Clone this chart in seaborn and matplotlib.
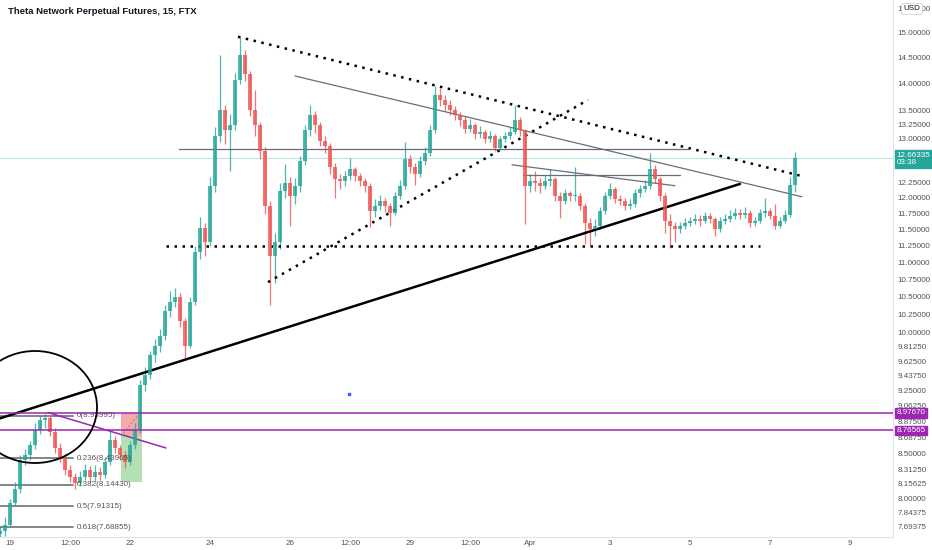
import numpy as np
import pandas as pd
import matplotlib
matplotlib.use("Agg")
import matplotlib.pyplot as plt
import seaborn as sns
from matplotlib.patches import Ellipse
from matplotlib.ticker import FixedLocator, NullLocator, NullFormatter

sns.set_style("white")
plt.rcParams['font.family'] = ['Liberation Sans', 'DejaVu Sans']

# --- DATA (3h candles, x = days since Mar 19 00:00) ---
t_start = -0.25
t_step = 0.125
first_open = 7.62
closes = [7.65, 7.71, 7.95, 8.10, 8.42, 8.48, 8.59, 8.77, 8.89, 8.91, 8.75, 8.56,
          8.45, 8.31, 8.23, 8.16, 8.23, 8.31, 8.23, 8.29, 8.25, 8.40,
          8.65, 8.56, 8.48, 8.40, 8.59, 8.77, 9.32, 9.45, 9.70, 9.83,
          9.96, 10.30, 10.43, 10.50, 10.16, 9.83, 10.43, 11.15, 11.53, 11.31,
          12.20, 13.05, 13.52, 13.15, 13.24, 14.08, 14.56, 14.18, 13.52, 13.24,
          12.79, 11.87, 11.10, 11.31, 12.11, 12.25, 12.03, 12.20, 12.62, 13.15,
          13.42, 13.24, 12.96, 12.87, 12.52, 12.31, 12.27, 12.36, 12.48, 12.36,
          12.27, 12.20, 11.79, 11.87, 11.95, 11.87, 11.76, 12.03, 12.20, 12.65,
          12.52, 12.40, 12.62, 12.76, 13.15, 13.79, 13.70, 13.61, 13.52, 13.42,
          13.33, 13.18, 13.24, 13.09, 13.11, 12.99, 13.05, 12.84, 12.99, 13.05,
          13.11, 13.33, 13.15, 12.20, 12.27, 12.24, 12.20, 12.27, 12.31, 12.03,
          11.95, 12.08, 12.03, 12.03, 11.87, 11.60, 11.50, 11.55, 11.79, 12.03,
          12.15, 11.98, 11.95, 11.87, 11.90, 12.08, 12.15, 12.20, 12.48, 12.31,
          12.03, 11.63, 11.55, 11.50, 11.55, 11.60, 11.63, 11.66, 11.63, 11.71,
          11.66, 11.50, 11.63, 11.66, 11.71, 11.76, 11.73, 11.76, 11.60, 11.63,
          11.76, 11.79, 11.71, 11.55, 11.63, 11.73, 12.21, 12.66335]
highs = [7.70, 7.80, 7.99, 8.18, 8.48, 8.55, 8.64, 8.85, 8.95, 8.98, 8.94, 8.80,
         8.62, 8.50, 8.36, 8.28, 8.30, 8.38, 8.35, 8.36, 8.34, 8.46,
         8.77, 8.70, 8.60, 8.52, 8.64, 8.85, 9.38, 9.55, 9.76, 9.92,
         10.05, 10.38, 10.58, 10.62, 10.55, 10.20, 10.50, 11.25, 11.70, 11.60,
         12.35, 13.20, 14.56, 13.60, 13.45, 14.20, 14.92, 14.66, 14.25, 13.89,
         13.30, 12.85, 11.95, 11.45, 12.25, 12.56, 12.35, 12.33, 12.70, 13.25,
         13.60, 13.50, 13.30, 13.05, 12.92, 12.58, 12.40, 12.45, 12.67, 12.52,
         12.42, 12.33, 12.24, 11.98, 12.05, 12.00, 11.92, 12.10, 12.30, 12.95,
         12.72, 12.58, 12.70, 12.86, 13.25, 13.96, 13.92, 13.80, 13.70, 13.58,
         13.48, 13.40, 13.35, 13.28, 13.22, 13.15, 13.14, 13.08, 13.05, 13.12,
         13.20, 13.61, 13.38, 13.18, 12.40, 12.44, 12.32, 12.38, 12.48, 12.35,
         12.10, 12.15, 12.12, 12.52, 12.08, 11.92, 11.68, 11.66, 11.85, 12.10,
         12.25, 12.18, 12.05, 12.00, 11.98, 12.15, 12.22, 12.30, 12.75, 12.55,
         12.35, 12.08, 11.75, 11.62, 11.62, 11.68, 11.70, 11.74, 11.72, 11.78,
         11.76, 11.70, 11.70, 11.74, 11.80, 11.84, 11.82, 11.85, 11.80, 11.70,
         11.83, 12.00, 11.84, 11.90, 11.70, 11.80, 12.35, 12.77]
lows = [7.58, 7.60, 7.69, 7.92, 8.06, 8.36, 8.42, 8.55, 8.72, 8.80, 8.70, 8.50,
        8.40, 8.25, 8.18, 8.10, 8.13, 8.20, 8.18, 8.19, 8.20, 8.22,
        8.37, 8.50, 8.42, 8.33, 8.37, 8.55, 8.73, 9.25, 9.40, 9.62,
        9.75, 9.90, 10.22, 10.35, 10.08, 9.67, 9.80, 10.38, 11.05, 11.10,
        11.25, 12.10, 12.95, 12.90, 12.44, 13.15, 14.00, 14.05, 13.40, 13.05,
        12.65, 11.75, 10.39, 10.70, 11.20, 12.00, 11.55, 11.90, 12.10, 12.55,
        13.05, 13.10, 12.88, 12.75, 12.40, 12.00, 12.15, 12.20, 12.30, 12.28,
        12.20, 12.10, 11.54, 11.70, 11.80, 11.78, 11.56, 11.72, 11.98, 12.15,
        12.42, 12.22, 12.35, 12.55, 12.70, 13.10, 13.58, 13.50, 13.42, 13.33,
        13.22, 13.10, 13.12, 13.00, 13.02, 12.92, 12.95, 12.78, 12.80, 12.95,
        13.00, 13.08, 13.05, 11.58, 12.10, 12.12, 12.08, 12.15, 12.20, 11.95,
        11.68, 11.90, 11.95, 11.95, 11.80, 11.27, 11.25, 11.40, 11.50, 11.74,
        11.98, 11.92, 11.88, 11.80, 11.82, 11.86, 12.02, 12.10, 12.15, 12.25,
        11.95, 11.45, 11.21, 11.30, 11.44, 11.50, 11.55, 11.58, 11.56, 11.60,
        11.60, 11.40, 11.46, 11.58, 11.62, 11.66, 11.66, 11.68, 11.54, 11.55,
        11.60, 11.70, 11.66, 11.50, 11.52, 11.60, 11.70, 12.10]

# hand drawn lines: (x days, price)
trend_support = ([-0.25, 18.25], [8.91, 12.23])
triangle_top = ([5.7, 19.8], [14.92, 12.36])
triangle_mid = ([7.125, 19.8], [14.15, 12.02])
rising_dotted = ([6.45, 14.45], [10.71, 13.70])
flat_support = ([3.9, 18.75], [11.25, 11.25])
flat_resist = ([4.225, 17.0], [12.82, 12.82])
small_desc = ([12.55, 16.625], [12.55, 12.20])
small_flat = ([12.825, 16.75], [12.38, 12.38])
purple_diag = ([0.95, 3.9], [8.98, 8.56])
purple_levels = [8.97670, 8.76565]

fib_names = ["0", "0.236", "0.382", "0.5", "0.618"]
fib_prices = [8.93995, 8.43965, 8.14430, 7.91315, 7.68855]
fib_span = [-0.25, 1.575]

box_x = [2.775, 3.3]
box_stop = [8.70, 8.9767]
box_target = [8.18, 8.70]

last_price = 12.66335
countdown = "03:38"

y_ticks = [15.5, 15.0, 14.5, 14.0, 13.5, 13.25, 13.0, 12.75, 12.25, 12.0, 11.75,
           11.5, 11.25, 11.0, 10.75, 10.5, 10.25, 10.0, 9.8125, 9.625, 9.4375,
           9.25, 9.0625, 8.875, 8.6875, 8.5, 8.3125, 8.15625, 8.0, 7.84375, 7.69375]
x_ticks = [0, 1.5, 3, 5, 7, 8.5, 10, 11.5, 13, 15, 17, 19, 21]
x_labels = ["19", "12:00", "22", "24", "26", "12:00", "29", "12:00", "Apr", "3", "5", "7", "9"]

UP = '#26a69a'
DOWN = '#ef5350'
PURPLE = '#9c27b0'
FS = 5.8

df = pd.DataFrame({'close': closes, 'high': highs, 'low': lows})
df['t'] = t_start + t_step * np.arange(len(df))
df['open'] = [first_open] + closes[:-1]
df['up'] = df['close'] >= df['open']

fig = plt.figure(figsize=(9.32, 5.5), dpi=100)
ax = fig.add_axes([0, 13 / 550, 893 / 932, 537 / 550])
ax.set_yscale('log')
ax.set_xlim(-0.25, 22.075)
ax.set_ylim(7.59, 15.68)

# candles
cols = np.where(df['up'], UP, DOWN)
ax.vlines(df['t'], df['low'], df['high'], colors=cols, lw=0.9, alpha=0.8, zorder=2)
body_lo = np.minimum(df['open'], df['close'])
body_h = np.maximum(np.abs(df['close'] - df['open']), 0.012)
ax.bar(df['t'], body_h, bottom=body_lo, width=t_step * 0.7, color=cols, alpha=0.8,
       linewidth=0, zorder=3)

# last price line
ax.axhline(last_price, color=UP, lw=0.8, alpha=0.3, zorder=1)

# fib retracement
for name, p in zip(fib_names, fib_prices):
    sns.lineplot(x=fib_span, y=[p, p], ax=ax, color='#787b86', lw=1.3, estimator=None)
    ax.text(fib_span[1] + 0.1, p, f"{name}({p:.5f})", fontsize=FS, color='#555555',
            va='center', ha='left')

# purple levels
for p in purple_levels:
    ax.axhline(p, color=PURPLE, lw=1.1, zorder=4)
    ax.text(1.004, p, f"{p:.5f}", transform=ax.get_yaxis_transform(), fontsize=FS,
            color='white', va='center', ha='left', clip_on=False,
            bbox=dict(boxstyle='square,pad=0.15', fc=PURPLE, ec=PURPLE))
sns.lineplot(x=purple_diag[0], y=purple_diag[1], ax=ax, color=PURPLE, lw=1.1, estimator=None)

# long/short position box
ax.fill_between(box_x, box_stop[0], box_stop[1], color='#f49a9a', alpha=0.85, lw=0, zorder=1)
ax.fill_between(box_x, box_target[0], box_target[1], color='#a8dba8', alpha=0.85, lw=0, zorder=1)
sns.lineplot(x=[box_x[0], box_x[1] - 0.05], y=[box_stop[0], box_stop[1]], ax=ax,
             color='#888888', lw=0.7, linestyle=(0, (2, 2)), estimator=None)

# trend lines
dots = (0, (1, 2.2))
sns.lineplot(x=trend_support[0], y=trend_support[1], ax=ax, color='black', lw=1.8, estimator=None)
sns.lineplot(x=triangle_top[0], y=triangle_top[1], ax=ax, color='black', lw=1.8,
             linestyle=dots, estimator=None)
sns.lineplot(x=rising_dotted[0], y=rising_dotted[1], ax=ax, color='black', lw=1.8,
             linestyle=dots, estimator=None)
sns.lineplot(x=flat_support[0], y=flat_support[1], ax=ax, color='black', lw=1.8,
             linestyle=dots, estimator=None)
for seg in [triangle_mid, flat_resist, small_desc, small_flat]:
    sns.lineplot(x=seg[0], y=seg[1], ax=ax, color='#6a6d78', lw=0.9, estimator=None)

# circle around the breakout
ax.add_patch(Ellipse((35 / 893, 130 / 537), 124 / 893, 112 / 537, transform=ax.transAxes,
                     fill=False, ec='black', lw=1.3, zorder=5))
ax.plot([8.475], [9.21], 's', color='#2962ff', ms=1.5)

# axes styling
ax.yaxis.tick_right()
ax.yaxis.set_major_locator(FixedLocator(y_ticks))
ax.yaxis.set_minor_locator(NullLocator())
ax.yaxis.set_minor_formatter(NullFormatter())
ax.set_yticklabels([f"{v:.5f}" for v in y_ticks])
ax.set_xticks(x_ticks)
ax.set_xticklabels(x_labels)
ax.tick_params(axis='y', length=0, pad=3, labelsize=FS, colors='#50535e')
ax.tick_params(axis='x', length=0, pad=2, labelsize=FS, colors='#50535e')
ax.set_xlabel("")
ax.set_ylabel("")
for s in ['top', 'left']:
    ax.spines[s].set_visible(False)
for s in ['right', 'bottom']:
    ax.spines[s].set_color('#e0e3eb')
    ax.spines[s].set_linewidth(0.8)

# last price tag
ax.text(1.004, 0.717, f"{last_price:.5f}\n{countdown}", transform=ax.transAxes,
        fontsize=FS, color='white', va='top', ha='left', linespacing=1.1, clip_on=False,
        bbox=dict(boxstyle='square,pad=0.2', fc=UP, ec=UP))

fig.text(912 / 932, 1 - 9 / 550, "USD", fontsize=FS, color='#131722', ha='center',
         va='center', bbox=dict(boxstyle='round,pad=0.25', fc='white', ec='#d1d4dc', lw=0.6))
fig.text(8 / 932, 1 - 11 / 550, "Theta Network Perpetual Futures, 15, FTX", fontsize=6.8,
         color='#131722', fontweight='bold', ha='left', va='center')

fig.savefig("out.png", dpi=100)
